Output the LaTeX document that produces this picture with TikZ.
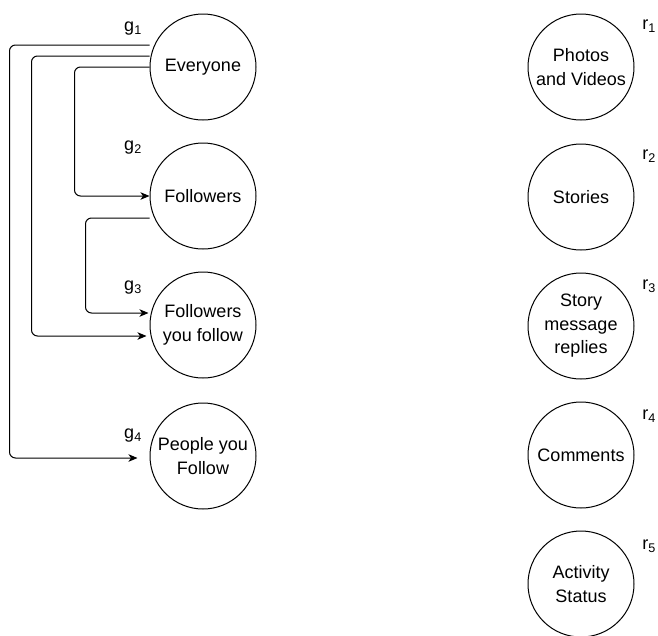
\documentclass[tikz,border=0pt]{standalone}
\usepackage{fontspec}
\setmainfont{Liberation Sans}
\usetikzlibrary{arrows.meta,calc}
\begin{document}
\begin{tikzpicture}[x=1pt,y=-1pt,
  group/.style={circle,draw,line width=1pt,minimum size=106pt,inner sep=0pt,
    align=center,font=\fontsize{18}{23.5}\selectfont},
  lab/.style={inner sep=0pt,font=\fontsize{18}{21}\selectfont},
  link/.style={draw,line width=1pt,rounded corners=6pt,
    -{Stealth[length=9pt,width=7.5pt,inset=2.5pt]}}]
\useasboundingbox (0,0) rectangle (658,635);

% audience groups
\node[group] (E)  at (203,67)  {Everyone};
\node[group] (F)  at (203,196) {Followers};
\node[group] (FF) at (203,325) {Followers\\you follow};
\node[group] (P)  at (203,456) {People you\\Follow};

\node[lab] (g1) at (133,29)  {g\textsubscript{1}};
\node[lab] (g2) at (133,148) {g\textsubscript{2}};
\node[lab] (g3) at (133,288) {g\textsubscript{3}};
\node[lab] (g4) at (133,436) {g\textsubscript{4}};

% resources
\node[group] (R1) at (581,67)  {Photos\\and Videos};
\node[group] (R2) at (581,197) {Stories};
\node[group] (R3) at (581,326) {Story\\message\\replies};
\node[group] (R4) at (581,455) {Comments};
\node[group] (R5) at (581,584) {Activity\\Status};

\node[lab] (r1) at (649,26)  {r\textsubscript{1}};
\node[lab] (r2) at (649,156) {r\textsubscript{2}};
\node[lab] (r3) at (649,286) {r\textsubscript{3}};
\node[lab] (r4) at (649,416) {r\textsubscript{4}};
\node[lab] (r5) at (649,546) {r\textsubscript{5}};

% inclusion links between groups
\draw[link] ($(E.west)+(0,-22)$) -- ++(-140,0) |- ($(P.west)+(-12,2)$);
\draw[link] ($(E.west)+(0,-11)$) -- ++(-118,0) |- ($(FF.west)+(-3,11)$);
\draw[link] (E.west) -- ++(-75,0) |- (F.west);
\draw[link] ($(F.west)+(0,22)$) -- ++(-64,0) |- ($(FF.west)+(-1,-12)$);
\end{tikzpicture}
\end{document}
